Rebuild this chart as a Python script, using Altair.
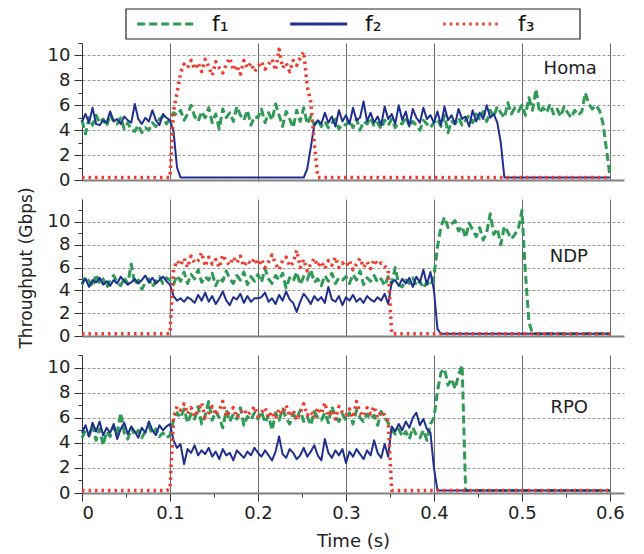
import altair as alt
import pandas as pd

FONT = "DejaVu Sans"
SERIES = ["f\u2081", "f\u2082", "f\u2083"]
COLORS = ["#2e9a55", "#1f2f8f", "#f23a2e"]
DASHES = [[8, 4], [1, 0], [2.5, 4]]
WIDTHS = [3, 2, 3.5]
PANELS = ["Homa", "NDP", "RPO"]
Y_MAX = [11, 12, 11]
HEIGHTS = [137, 137, 138]
LABEL_T = [0.585, 0.575, 0.575]
LABEL_V = [8.9, 6.9, 6.8]
X_TICKS = [0, 0.05, 0.1, 0.15, 0.2, 0.25, 0.3, 0.35, 0.4, 0.45, 0.5, 0.55, 0.6]
Y_TICKS = [0, 1, 2, 3, 4, 5, 6, 7, 8, 9, 10, 11]

# sample times (s), one sample every 4 ms
T = [round(i * 0.004, 3) for i in range(151)]

HOMA_F1 = [4.8, 3.7, 5.0, 4.4, 5.2, 4.6, 4.9, 4.3, 5.3, 4.7, 4.5, 5.0, 4.1, 4.6, 4.0, 3.9, 4.4, 3.8, 4.2, 4.0, 4.6, 4.3, 4.9, 5.1, 4.5,
           4.9, 5.4, 5.2, 5.6, 4.8, 5.3, 6.0, 5.1, 4.7, 5.5, 5.0, 5.8, 4.6, 5.3, 4.1, 5.7, 5.0, 5.4, 4.7, 5.9, 5.2, 4.8, 5.6, 4.4, 5.1,
           5.0, 5.7, 4.6, 5.4, 4.8, 6.1, 5.2, 4.3, 5.5, 4.9, 4.2, 5.6, 4.7, 5.8, 4.5, 5.1, 4.4, 4.8, 4.3, 4.7, 4.2, 4.6, 4.9, 4.1, 4.5,
           4.4, 4.8, 4.2, 4.9, 4.0, 4.7, 4.5, 5.0, 4.3, 4.6, 4.1, 4.8, 4.4, 4.9, 4.2, 4.6, 4.5, 5.1, 4.3, 4.7, 4.4, 4.0, 4.8, 4.5, 4.2,
           4.6, 4.9, 4.3, 5.2, 3.8, 4.7, 4.5, 5.0, 4.4, 4.8, 5.2, 4.6, 5.3, 4.9, 5.5, 4.7, 5.6, 5.1, 5.9, 5.4, 5.0, 6.2, 5.3, 5.8, 5.5,
           6.0, 5.2, 6.6, 5.6, 7.3, 5.4, 5.8, 5.4, 6.1, 5.3, 5.7, 5.1, 5.9, 5.4, 5.0, 5.6, 5.2, 5.5, 7.0, 6.1, 5.7, 6.0, 5.6, 4.6, 2.5,
           0.3]
HOMA_F2 = ([4.7, 5.3, 4.6, 5.8, 4.5, 4.4, 4.8, 4.6, 5.5, 4.7, 4.9, 4.5, 5.1, 4.8, 4.6, 6.1, 4.9, 4.5, 5.0, 4.7, 5.6, 4.8, 4.4, 5.3, 5.0,
            4.8, 3.9, 1.0] + [0.2] * 22 + [0.2] * 14 +
           [0.9, 2.6, 4.4, 4.8, 4.5, 5.4, 4.6, 5.1, 4.3, 5.6, 4.7,
            5.2, 4.5, 5.8, 4.8, 5.0, 6.3, 4.7, 5.4, 4.6, 5.1, 4.4, 5.9, 4.9, 5.3, 4.5, 6.0, 4.8, 5.5, 4.3, 5.7, 5.0, 4.6, 5.8, 4.9, 5.2,
            4.6, 5.5, 4.4, 5.9, 4.8, 5.2, 4.5, 5.7, 4.9, 5.1, 4.3, 5.6, 4.7, 5.4, 4.9, 6.0, 5.0, 5.3, 4.6, 3.0] +
           [0.2] * 5 + [0.2] * 25 + [0.2])
HOMA_F3 = ([0.2] * 25 +
           [0.2, 5.5, 7.0, 8.6, 9.3, 9.0, 9.6, 8.9, 9.4, 8.7, 9.7, 9.1, 8.4, 9.5, 9.0, 8.6, 9.3, 9.8, 8.8, 9.2, 8.5, 9.6, 9.0, 9.4, 8.7,
            9.1, 9.5, 8.9, 9.3, 9.7, 8.8, 10.5, 9.0, 9.4, 8.7, 9.6, 9.2, 9.8, 10.3, 7.5, 6.3, 3.0] +
           [0.2] * 8 + [0.2] * 75 + [0.2])

NDP_F1 = ([4.5, 5.2, 4.8, 4.3, 5.4, 4.6, 5.0, 4.2, 4.9, 5.3, 4.7, 4.4, 5.1, 4.6, 6.3, 4.5, 4.9, 4.1, 4.7, 5.0, 4.3, 4.8, 5.2, 4.6, 5.1,
           4.9, 4.5, 5.3, 4.8, 5.6, 4.6, 5.4, 5.0, 5.8, 4.7, 5.2, 4.9, 5.5, 4.4, 5.1, 4.8, 5.7, 5.0, 4.6, 5.3, 4.9, 5.6, 4.5, 5.2, 4.8,
           5.4, 4.7, 5.9, 5.0, 4.6, 5.3, 4.9, 5.5, 4.2, 5.1, 4.8, 5.6, 4.5, 5.2, 4.9, 5.8, 4.7, 5.0, 4.4, 5.3, 4.8, 5.5, 4.6, 5.1, 4.9,
           5.2, 4.6, 5.4, 4.9, 5.7, 4.5, 5.1, 4.8, 5.3, 4.7, 5.0, 4.4, 5.2, 4.6, 6.0, 4.5, 4.3, 4.9, 4.6, 5.1, 4.4, 4.8, 4.2, 4.7, 4.4,
           5.2, 7.8, 9.6, 10.4, 9.5, 9.8, 10.1, 9.2, 9.6, 8.6, 9.9, 9.3, 8.7, 9.5, 8.4, 9.1, 10.7, 8.9, 9.4, 8.0, 9.6, 9.1, 8.5, 8.9, 9.4,
           11.0, 5.5, 1.2] + [0.2] * 22 + [0.2])
NDP_F2 = ([4.6, 5.0, 4.3, 4.9, 4.7, 5.1, 4.5, 4.8, 4.4, 4.9, 4.6, 5.2, 4.8, 4.5, 4.7, 5.0, 4.6, 4.9, 5.3, 4.7, 5.1, 4.6, 4.9, 5.2, 4.8,
           4.5, 3.5, 3.1, 3.3, 3.0, 3.4, 3.2, 2.9, 3.6, 3.1, 3.8, 3.0, 3.5, 2.8, 3.3, 3.9, 3.1, 2.7, 3.4, 3.2, 3.7, 2.9, 3.5, 3.0, 3.3,
           3.3, 3.4, 3.8, 3.0, 3.3, 2.8, 3.6, 3.1, 3.9, 3.2, 2.9, 2.1, 3.0, 3.7, 3.3, 2.8, 3.5, 3.1, 3.4, 2.9, 4.3, 3.2, 3.0, 3.5, 2.7,
           3.4, 3.1, 3.6, 3.0, 3.3, 2.9, 3.5, 3.2, 3.0, 3.4, 3.1, 3.7, 2.8, 4.7, 4.9, 4.4, 5.0, 4.6, 5.1, 4.3, 5.2, 4.7, 5.8, 4.5, 5.6,
           4.0, 0.6] + [0.2] * 23 + [0.2] * 25 + [0.2])
NDP_F3 = ([0.2] * 25 +
          [0.2, 5.8, 6.6, 6.2, 6.8, 6.0, 7.0, 6.4, 6.6, 7.3, 6.1, 6.9, 6.3, 6.7, 6.0, 7.1, 6.5, 6.2, 6.9, 6.4, 7.0, 6.1, 6.6, 6.3, 6.8,
           6.2, 6.7, 6.0, 6.5, 7.1, 6.3, 5.8, 6.6, 6.9, 6.1, 6.4, 7.5, 6.0, 6.7, 5.7, 6.3, 6.8, 6.1, 6.5, 5.9, 6.6, 6.2, 6.9, 6.0, 6.4,
           6.1, 6.6, 5.8, 6.3, 6.8, 6.0, 6.5, 5.9, 6.7, 6.2, 6.4, 6.1, 5.8] +
          [0.2] * 12 + [0.2] * 50 + [0.2])

RPO_F1 = ([4.4, 5.0, 4.6, 5.4, 4.2, 5.1, 3.8, 4.9, 4.5, 5.3, 4.7, 6.4, 4.8, 4.3, 5.2, 4.6, 5.0, 4.4, 4.9, 5.3, 4.7, 5.1, 4.5, 4.8, 4.4,
           4.6, 5.8, 6.4, 6.0, 6.7, 5.6, 6.3, 5.9, 6.9, 5.5, 6.2, 7.3, 5.8, 6.5, 6.0, 5.2, 6.6, 5.7, 6.3, 5.9, 6.8, 5.4, 6.1, 5.8, 6.4,
           5.9, 6.5, 5.6, 6.2, 5.0, 6.4, 5.8, 6.7, 6.0, 5.5, 6.3, 5.9, 6.6, 5.7, 6.1, 5.4, 6.5, 6.0, 5.8, 6.4, 5.6, 6.9, 6.1, 5.7, 6.3,
           5.8, 6.4, 5.5, 6.6, 6.0, 5.7, 6.3, 5.9, 6.2, 5.4, 6.5, 6.0, 5.6, 5.0, 4.7, 5.1, 4.5, 4.9, 4.3, 5.2, 4.6, 4.4, 5.0, 4.2, 5.5,
           6.0, 8.1, 9.6, 9.9, 8.6, 9.1, 8.3, 9.4, 10.2] + [0.2] * 16 + [0.2] * 25 + [0.2])
RPO_F2 = ([4.8, 5.4, 4.5, 5.6, 4.9, 5.7, 4.6, 5.2, 4.8, 5.5, 4.3, 5.1, 5.6, 4.7, 5.3, 4.9, 4.4, 5.2, 4.8, 5.7, 5.0, 4.6, 5.4, 5.0, 5.3,
           5.5, 4.2, 3.6, 3.9, 2.3, 3.5, 3.2, 3.8, 3.0, 3.4, 3.1, 3.6, 2.9, 3.3, 2.7, 3.5, 3.0, 3.2, 2.6, 3.4, 3.1, 2.8, 3.3, 3.0, 3.6,
           3.2, 2.9, 3.4, 3.0, 2.6, 3.3, 4.5, 3.1, 2.8, 3.5, 3.2, 2.7, 3.0, 3.6, 2.9, 3.3, 3.8, 3.0, 2.6, 4.3, 3.2, 2.8, 3.4, 3.0, 3.5,
           2.4, 3.3, 2.9, 3.5, 3.1, 2.7, 3.4, 3.0, 4.2, 3.2, 2.8, 3.9, 2.9, 5.3, 4.9, 5.5, 5.0, 5.7, 5.2, 6.0, 6.4, 5.4, 5.9, 5.1, 4.8,
           2.0] + [0.2] * 24 + [0.2] * 25 + [0.2])
RPO_F3 = ([0.2] * 25 +
          [0.3, 6.0, 6.9, 6.6, 7.1, 6.3, 6.8, 6.1, 6.5, 7.2, 6.0, 6.4, 6.9, 6.2, 6.6, 7.3, 6.1, 6.5, 6.8, 6.0, 6.4, 6.7, 6.2, 6.5, 6.9,
           6.1, 6.4, 6.8, 6.0, 6.5, 5.9, 6.7, 6.3, 7.0, 6.1, 6.6, 5.8, 6.4, 7.1, 6.2, 6.5, 6.0, 6.8, 6.3, 7.2, 6.1, 6.6, 5.9, 6.9, 6.4,
           6.2, 6.7, 6.0, 7.3, 6.4, 6.1, 6.8, 6.3, 6.9, 6.0, 6.5, 6.2, 5.7] +
          [0.2] * 12 + [0.2] * 50 + [0.2])

DATA = [[HOMA_F1, HOMA_F2, HOMA_F3], [NDP_F1, NDP_F2, NDP_F3], [RPO_F1, RPO_F2, RPO_F3]]
for group in DATA:
    for s in group:
        assert len(s) == len(T), len(s)

MAJOR_X = "round(datum.value * 100) % 10 == 0"
MAJOR_Y = "datum.value % 2 == 0"


def x_axis(bottom):
    kw = dict(values=X_TICKS, grid=True, gridColor="#444", gridWidth=0.8,
              gridOpacity={"condition": {"test": MAJOR_X + " && datum.value > 0", "value": 1}, "value": 0},
              domainColor="#808080", domainWidth=2)
    if bottom:
        return alt.Axis(labels=True, ticks=True, tickColor="#333", tickWidth=1,
                        tickSize={"condition": {"test": MAJOR_X, "value": 8}, "value": 4},
                        labelExpr=MAJOR_X + " ? format(datum.value, '.1~f') : ''",
                        labelFont=FONT, labelFontSize=18, labelColor="#222", labelPadding=3,
                        title="Time (s)", titleFont=FONT, titleFontSize=18, titleFontWeight="normal",
                        titleColor="#222", titlePadding=10, **kw)
    return alt.Axis(labels=False, ticks=False, title=None, **kw)


def y_axis(with_title):
    kw = dict(values=Y_TICKS, grid=True, gridColor="#999", gridDash=[3, 2], gridWidth=1,
              gridOpacity={"condition": {"test": MAJOR_Y + " && datum.value > 0", "value": 1}, "value": 0},
              domainColor="#333", domainWidth=1, tickColor="#333", tickWidth=1,
              tickSize={"condition": {"test": MAJOR_Y, "value": 8}, "value": 4},
              labelExpr=MAJOR_Y + " ? datum.label : ''",
              labelFont=FONT, labelFontSize=18, labelColor="#222", labelPadding=4)
    if with_title:
        return alt.Axis(title="Throughput (Gbps)", titleFont=FONT, titleFontSize=17,
                        titleFontWeight="normal", titleColor="#222", titlePadding=12, **kw)
    return alt.Axis(title=None, **kw)


def panel(k):
    rows = []
    for name, vals in zip(SERIES, DATA[k]):
        for t, v in zip(T, vals):
            rows.append({"t": t, "v": v, "s": name})
    df = pd.DataFrame(rows)
    ex = alt.X("t:Q", scale=alt.Scale(domain=[0, 0.616], nice=False, zero=False), axis=x_axis(k == 2))
    ey = alt.Y("v:Q", scale=alt.Scale(domain=[0, Y_MAX[k]], nice=False), axis=y_axis(k == 1))
    if k == 0:
        leg = alt.Legend(title=None, orient="none", legendX=44, legendY=-34, direction="horizontal",
                         symbolType="M-0.4,0H5.6", symbolSize=361, symbolStrokeWidth=3,
                         labelFont=FONT, labelFontSize=22, labelColor="#111", labelOffset=60,
                         columnPadding=54, padding=4)
    else:
        leg = None
    color = alt.Color("s:N", scale=alt.Scale(domain=SERIES, range=COLORS), legend=leg)
    dash = alt.StrokeDash("s:N", scale=alt.Scale(domain=SERIES, range=DASHES), legend=leg)
    layers = []
    if k == 0:
        # frame drawn around the legend (pixel offsets relative to the top panel)
        frame = alt.Chart(pd.DataFrame({"a": [0]})).mark_rect(
            fill="white", stroke="#222", strokeWidth=1.2
        ).encode(x=alt.value(44), x2=alt.value(498), y=alt.value(-34), y2=alt.value(-4))
        layers.append(frame)
    for name, w in zip(SERIES, WIDTHS):
        layers.append(
            alt.Chart(df).transform_filter(alt.datum.s == name)
            .mark_line(strokeWidth=w, strokeJoin="round")
            .encode(x=ex, y=ey, color=color, strokeDash=dash)
        )
    lab = pd.DataFrame({"t": [LABEL_T[k]], "v": [LABEL_V[k]], "name": [PANELS[k]]})
    text = alt.Chart(lab).mark_text(align="right", baseline="middle", font=FONT, fontSize=18,
                                    color="#222").encode(x=ex, y=ey, text="name:N")
    layers.append(text)
    return alt.layer(*layers).properties(width=542, height=HEIGHTS[k])


chart = (
    alt.vconcat(panel(0), panel(1), panel(2), spacing=19, bounds="flush")
    .resolve_legend(color="independent", strokeDash="independent")
    .configure_view(stroke=None)
    .properties(padding={"left": 9, "top": 0, "right": 0, "bottom": 0}, background="white")
)

chart.save("out.html", embed_options={"renderer": "svg", "actions": False})
